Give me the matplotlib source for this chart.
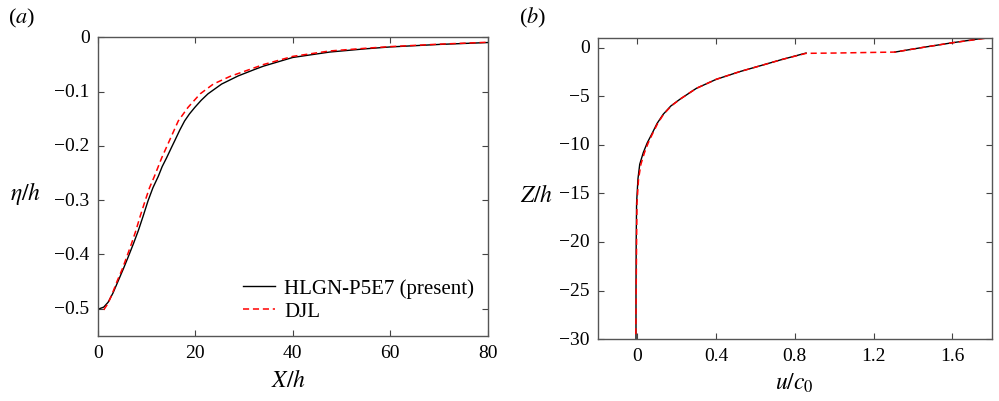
import numpy as np
import matplotlib
matplotlib.use("Agg")
import matplotlib.pyplot as plt

plt.rcParams['font.family'] = ['Liberation Serif', 'DejaVu Serif']
plt.rcParams['mathtext.fontset'] = 'stix'

# (a) surface elevation
x_hlgn = [0.3, 1.2, 2.1, 3.1, 4.2, 5.2, 6.2, 7.3, 8.3, 9.3, 10.3, 11.3, 12.4, 13.2,
          14.1, 15.1, 15.8, 16.8, 17.8, 18.8, 19.9, 21.2, 22.6, 25.4, 28.8, 32.2,
          34.0, 40.0, 47.6, 55.0, 60.0, 70.0, 80.0]
eta_hlgn = [-0.500, -0.497, -0.488, -0.471, -0.448, -0.427, -0.405, -0.380, -0.356,
            -0.329, -0.301, -0.277, -0.256, -0.238, -0.222, -0.203, -0.190, -0.171,
            -0.154, -0.141, -0.129, -0.116, -0.104, -0.086, -0.071, -0.059, -0.053,
            -0.037, -0.027, -0.021, -0.0176, -0.013, -0.0095]

x_djl = [1.2, 2.1, 3.0, 4.0, 5.0, 5.9, 6.9, 7.8, 8.7, 9.7, 10.6, 11.6, 13.1, 14.7,
         16.5, 18.5, 21.0, 23.7, 27.1, 31.5, 34.0, 40.0, 47.6, 55.0, 60.0, 70.0, 80.0]
eta_djl = [-0.502, -0.490, -0.471, -0.448, -0.427, -0.405, -0.380, -0.356, -0.329,
           -0.301, -0.277, -0.256, -0.222, -0.190, -0.154, -0.129, -0.104, -0.086,
           -0.072, -0.058, -0.050, -0.035, -0.025, -0.020, -0.017, -0.0125, -0.009]

# (b) velocity profile
u_hlgn_low = [-0.007, -0.007, -0.006, -0.004, 0.003, 0.012, 0.030, 0.050, 0.073, 0.100,
              0.131, 0.170, 0.216, 0.300, 0.400, 0.519, 0.636, 0.737, 0.857]
z_hlgn_low = [-30, -25, -20, -16, -13.5, -12, -10.8, -9.8, -8.9, -7.8,
              -6.86, -6.0, -5.31, -4.18, -3.26, -2.47, -1.79, -1.20, -0.55]
u_hlgn_up = [1.308, 1.45, 1.60, 1.76]
z_hlgn_up = [-0.45, 0.03, 0.51, 0.98]

u_djl = [-0.008, -0.006, -0.004, -0.002, 0.006, 0.018, 0.036, 0.055, 0.076, 0.103,
         0.133, 0.172, 0.216, 0.300, 0.400, 0.519, 0.636, 0.737, 0.857, 1.0, 1.15,
         1.308, 1.45, 1.60, 1.78]
z_djl = [-29.5, -25, -20, -16, -13.5, -12, -10.8, -9.8, -8.9, -7.8,
         -6.86, -6.0, -5.31, -4.18, -3.26, -2.47, -1.79, -1.20, -0.58, -0.55, -0.5,
         -0.45, 0.03, 0.51, 1.0]

xticks_a = [0, 20, 40, 60, 80]
yticks_a = [0, -0.1, -0.2, -0.3, -0.4, -0.5]
yticklabels_a = ['0', '\u22120.1', '\u22120.2', '\u22120.3', '\u22120.4', '\u22120.5']
xticks_b = [0, 0.4, 0.8, 1.2, 1.6]
xticklabels_b = ['0', '0.4', '0.8', '1.2', '1.6']
yticks_b = [0, -5, -10, -15, -20, -25, -30]
yticklabels_b = ['0', '\u22125', '\u221210', '\u221215', '\u221220', '\u221225', '\u221230']

fig = plt.figure(figsize=(9.99, 4.02), dpi=100)
ax1 = fig.add_axes([0.098, 0.162, 0.390, 0.7425])
ax2 = fig.add_axes([0.5986, 0.154, 0.3941, 0.749])

dash = (0, (4, 2.5))

ax1.plot(x_hlgn, eta_hlgn, color='black', lw=1.0, label='HLGN-P5E7 (present)')
ax1.plot(x_djl, eta_djl, color='red', lw=1.1, ls=dash, label='DJL')
ax1.set_xlim(0, 80)
ax1.set_ylim(-0.55, 0)
ax1.set_xticks(xticks_a)
ax1.set_xticklabels([str(t) for t in xticks_a])
ax1.set_yticks(yticks_a)
ax1.set_yticklabels(yticklabels_a)
ax1.set_xlabel(r'$X/h$', fontsize=17)
ax1.set_ylabel(r'$\eta/h$', fontsize=17, rotation=0)
ax1.xaxis.set_label_coords(0.49, -0.112)
ax1.yaxis.set_label_coords(-0.185, 0.436)
ax1.legend(loc='lower right', bbox_to_anchor=(0.965, 0.05), frameon=False,
           fontsize=15, borderaxespad=0, borderpad=0, handlelength=1.5,
           handletextpad=0.45, labelspacing=0.15)

ax2.plot(u_hlgn_low, z_hlgn_low, color='black', lw=1.0)
ax2.plot(u_hlgn_up, z_hlgn_up, color='black', lw=1.0)
ax2.plot(u_djl, z_djl, color='red', lw=1.1, ls=dash)
ax2.set_xlim(-0.2, 1.8)
ax2.set_ylim(-30, 1)
ax2.set_xticks(xticks_b)
ax2.set_xticklabels(xticklabels_b)
ax2.set_yticks(yticks_b)
ax2.set_yticklabels(yticklabels_b)
ax2.set_xlabel(r'$u/c_0$', fontsize=17)
ax2.set_ylabel(r'$Z/h$', fontsize=17, rotation=0)
ax2.xaxis.set_label_coords(0.5, -0.105)
ax2.yaxis.set_label_coords(-0.155, 0.442)

for ax in (ax1, ax2):
    ax.tick_params(direction='in', length=4, width=0.8, color='#444444',
                   top=True, right=True, labelsize=14, pad=6)
    for s in ax.spines.values():
        s.set_color('#555555')
        s.set_linewidth(1.0)
    for lab in ax.get_yticklabels():
        lab.set_verticalalignment('center')

fig.text(0.008, 0.955, r'($a$)', fontsize=16, va='center')
fig.text(0.52, 0.955, r'($b$)', fontsize=16, va='center')

fig.savefig('out.png', dpi=100)
